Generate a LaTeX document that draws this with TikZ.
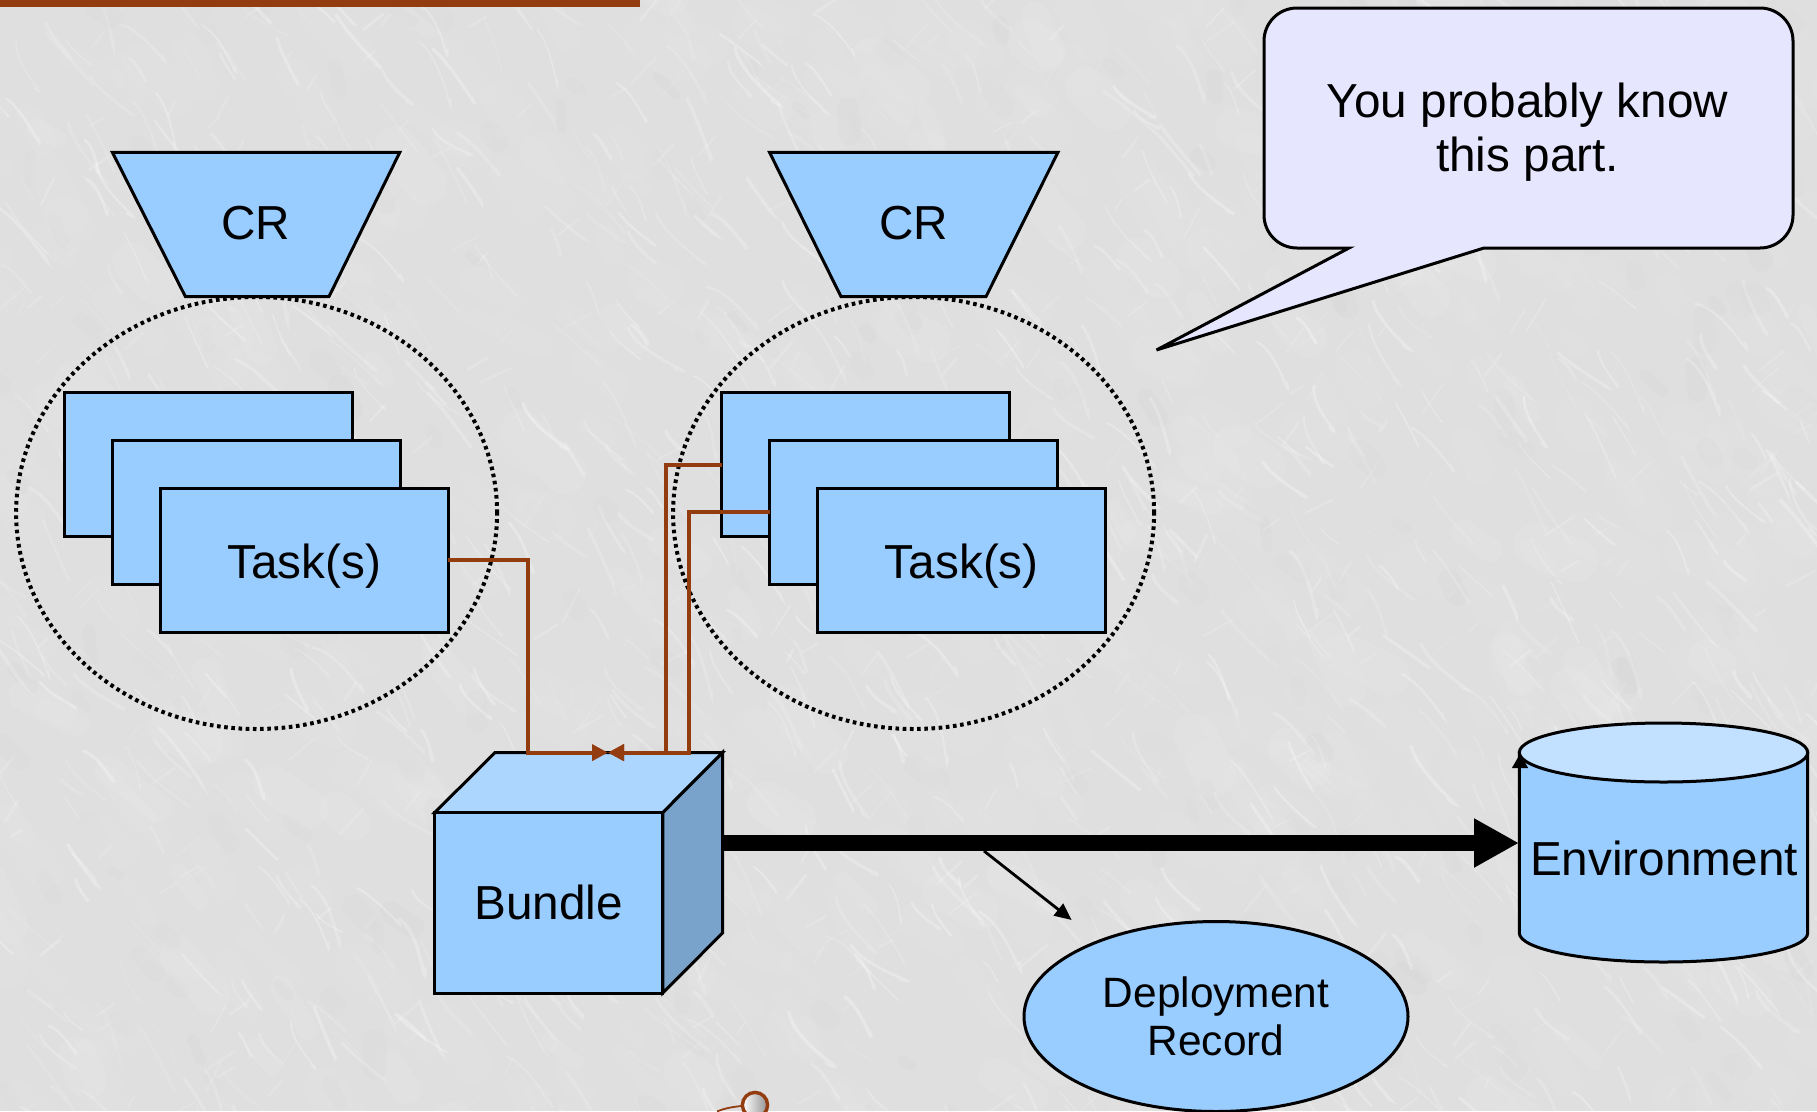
\documentclass[tikz,border=0pt]{standalone}
\usepackage{fontspec}
\setmainfont{Liberation Sans}
\usetikzlibrary{arrows.meta,shadings,shapes.geometric}
\definecolor{bgc}{HTML}{DFDFDF}
\definecolor{rust}{HTML}{933C0F}
\definecolor{skyb}{HTML}{99CCFF}
\definecolor{skyt}{HTML}{ADD6FF}
\definecolor{skyr}{HTML}{7AA3CC}
\definecolor{skyc}{HTML}{C2E0FF}
\definecolor{lav}{HTML}{E6E6FF}
\tikzset{
  outl/.style={draw=black,line width=3pt,line join=miter},
  blueshape/.style={outl,fill=skyb},
  taskbox/.style={blueshape,rectangle,minimum width=288pt,minimum height=144pt,inner sep=0pt,outer sep=0pt},
  lbl/.style={font=\fontsize{47.7}{54}\selectfont,align=center,inner sep=0pt,text=black},
  dots/.style={draw=black,line width=4pt,dash pattern=on 3.6pt off 3.6pt},
  link/.style={draw=rust,line width=4pt,line join=miter,-{Triangle[length=16pt,width=16pt]}},
  vein/.style={draw=white,line cap=round},
  blot/.style={draw=black!24,line cap=round},
}
\begin{document}
\begin{tikzpicture}[x=1pt,y=-1pt]
\useasboundingbox (0,0) rectangle (1817,1111);
\begin{scope}
\clip (0,0) rectangle (1817,1111);
\fill[bgc] (0,0) rectangle (1817,1111);
\pgfmathsetseed{7}
\foreach \i in {1,...,500}{
  \pgfmathsetmacro{\px}{random(-20,1830)}
  \pgfmathsetmacro{\py}{random(-20,1130)}
  \pgfmathsetmacro{\ang}{20+rnd*50}
  \pgfmathsetmacro{\len}{15+rnd*50}
  \pgfmathsetmacro{\op}{.03+rnd*.04}
  \pgfmathsetmacro{\wd}{15+rnd*30}
  \draw[vein,opacity=\op,line width=\wd pt] (\px,\py) -- ++(\ang:\len);
}
\foreach \i in {1,...,1000}{
  \pgfmathsetmacro{\px}{random(-20,1830)}
  \pgfmathsetmacro{\py}{random(-20,1130)}
  \pgfmathsetmacro{\ang}{35+rnd*35}
  \pgfmathsetmacro{\len}{20+rnd*45}
  \pgfmathsetmacro{\wob}{(rnd-.5)*60}
  \pgfmathsetmacro{\op}{.08+rnd*.2}
  \pgfmathsetmacro{\wd}{1+rnd*2.6}
  \draw[vein,opacity=\op,line width=\wd pt] (\px,\py) .. controls ++(\ang+\wob:\len/2) and ++(\ang-\wob:\len/2) .. ++(\ang:\len);
}
\foreach \i in {1,...,400}{
  \pgfmathsetmacro{\px}{random(-20,1830)}
  \pgfmathsetmacro{\py}{random(-20,1130)}
  \pgfmathsetmacro{\ang}{115+rnd*40}
  \pgfmathsetmacro{\len}{12+rnd*25}
  \pgfmathsetmacro{\op}{.06+rnd*.14}
  \pgfmathsetmacro{\wd}{1+rnd*2}
  \draw[vein,opacity=\op,line width=\wd pt] (\px,\py) -- ++(\ang:\len);
}
\foreach \i in {1,...,200}{
  \pgfmathsetmacro{\px}{random(-20,1830)}
  \pgfmathsetmacro{\py}{random(-20,1130)}
  \pgfmathsetmacro{\ang}{30+rnd*60}
  \pgfmathsetmacro{\len}{8+rnd*20}
  \pgfmathsetmacro{\op}{.03+rnd*.05}
  \pgfmathsetmacro{\wd}{8+rnd*16}
  \draw[blot,opacity=\op,line width=\wd pt] (\px,\py) -- ++(\ang:\len);
}
\end{scope}
% top bar
\fill[rust] (0,0) rectangle (640,7);
% dotted circles
\node[dots,ellipse,minimum width=481pt,minimum height=432pt,inner sep=0pt] (ring1) at (256.6,513) {};
\node[dots,ellipse,minimum width=481pt,minimum height=432pt,inner sep=0pt] (ring2) at (913.6,513) {};
% CR trapezoids
\draw[blueshape] (112.4,152.3) -- (399.8,152.3) -- (329,296.6) -- (185.4,296.6) -- cycle;
\draw[blueshape] (769.5,152.3) -- (1058,152.3) -- (986,296.6) -- (841,296.6) -- cycle;
\node[lbl] (cr1) at (255.5,223) {CR};
\node[lbl] (cr2) at (913.5,223) {CR};
% task stacks
\node[taskbox] (a1) at (208,464.7) {};
\node[taskbox] (b1) at (256.1,512) {};
\node[taskbox,lbl,text depth=0pt] (c1) at (304.2,560) {\raisebox{-2.2pt}{Task(s)}};
\node[taskbox] (a2) at (865.6,464.7) {};
\node[taskbox] (b2) at (913.7,512) {};
\node[taskbox,lbl,text depth=0pt] (c2) at (961.8,560) {\raisebox{-2.2pt}{Task(s)}};
% bundle
\draw[outl,fill=skyt] (434.6,812.6) -- (495,752.6) -- (722.5,752.6) -- (662.8,812.6) -- cycle;
\draw[outl,fill=skyr] (662.8,812.6) -- (722.5,752.6) -- (722.5,933) -- (662.8,993) -- cycle;
\node[blueshape,rectangle,lbl,minimum width=228.2pt,minimum height=180.6pt,outer sep=0pt] (bundle) at (548.7,902.8) {Bundle};
\coordinate (joint) at (608,752.6);
\coordinate (bendc) at (528,752.6);
\coordinate (benda) at (665.7,752.6);
\coordinate (bendb) at (689.3,752.6);
\draw[link] (c1.east) -| (bendc) -- (joint);
\draw[link] (a2.west) -| (benda) -- (joint);
\draw[link] (b2.west) -| (bendb) -- (joint);
% environment
\draw[blueshape] (1519.3,752) -- (1519.3,933) arc[start angle=180,end angle=0,x radius=144.2,y radius=29] -- (1807.7,752) -- cycle;
\draw[outl,fill=skyc] (1663.5,752.5) ellipse[x radius=144.2,y radius=29.5];
\node[lbl] (env) at (1664,858) {Environment};
\coordinate (envin) at (1519,843);
\coordinate (bundleout) at (722,843);
\draw[line width=15.6pt,-{Triangle[length=45pt,width=46pt]}] (bundleout) -- (envin);
\coordinate (stuba) at (1520,768);
\coordinate (stubb) at (1520,754);
\draw[line width=1pt,-{Triangle[length=14pt,width=16pt]}] (stuba) -- (stubb);
% deployment record
\node[blueshape,ellipse,minimum width=384pt,minimum height=190pt,inner sep=0pt,outer sep=0pt,font=\fontsize{42.4}{47.5}\selectfont,align=center] (record) at (1216,1016.5) {Deployment\\Record};
\coordinate (recfrom) at (984,851);
\coordinate (recto) at (1071.7,920);
\draw[line width=2.8pt,-{Triangle[length=17pt,width=15pt]}] (recfrom) -- (recto);
% callout
\draw[outl,fill=lav] (1349,248) -- (1297,248) arc[start angle=90,end angle=180,radius=33] -- (1264,41) arc[start angle=180,end angle=270,radius=33] -- (1760,8) arc[start angle=270,end angle=360,radius=33] -- (1793,215) arc[start angle=0,end angle=90,radius=33] -- (1484,248) -- (1156.5,350) -- cycle;
\node[lbl] (say) at (1527.5,132) {You probably know\\this part.};
% ball ornament
\begin{scope}
\clip (0,0) rectangle (1817,1111);
\draw[rust,line width=1.8pt] (717,1111.5) .. controls (725,1108) and (733,1107) .. (741,1106);
\shade[left color=white,right color=black!42,draw=rust,line width=3.4pt] (755,1105) circle[radius=12.6];
\end{scope}
\end{tikzpicture}
\end{document}
